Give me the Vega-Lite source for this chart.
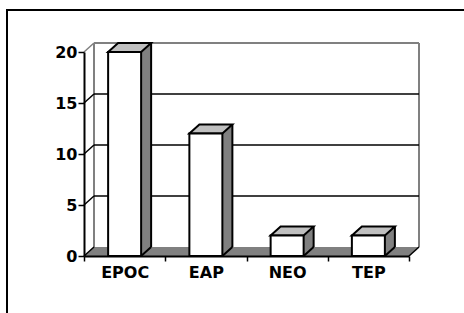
{
  "$schema": "https://vega.github.io/schema/vega-lite/v6.json",
  "width": 459,
  "height": 305,
  "autosize": {"type": "none"},
  "padding": {"left": 7, "top": 10, "right": -2, "bottom": -2},
  "background": "white",
  "config": {
    "view": {"stroke": "black", "strokeWidth": 2, "fill": "white"},
    "font": "DejaVu Sans",
    "axis": {
      "labelFont": "DejaVu Sans",
      "labelFontSize": 16,
      "labelFontWeight": "bold",
      "labelColor": "black",
      "domainColor": "black",
      "domainWidth": 2,
      "tickColor": "black",
      "tickWidth": 1.5,
      "grid": false
    }
  },
  "datasets": {
    "bars": [
      {"cat": "EPOC", "n": 20},
      {"cat": "EAP", "n": 12},
      {"cat": "NEO", "n": 2},
      {"cat": "TEP", "n": 2}
    ],
    "ticks": [{"v": 0}, {"v": 5}, {"v": 10}, {"v": 15}, {"v": 20}]
  },
  "data": {"name": "bars"},
  "layer": [
    {
      "data": {"values": [{}]},
      "mark": {"type": "rule", "stroke": "#808080", "strokeWidth": 2, "xOffset": 10, "yOffset": -9, "y2Offset": -9},
      "encoding": {
        "x": {"datum": "EPOC", "type": "nominal", "bandPosition": 0},
        "y": {"datum": 0, "type": "quantitative"},
        "y2": {"datum": 20}
      }
    },
    {
      "data": {"values": [{}]},
      "mark": {"type": "rule", "stroke": "#808080", "strokeWidth": 2, "xOffset": 10, "yOffset": -9, "y2Offset": -9},
      "encoding": {
        "x": {"datum": "TEP", "type": "nominal", "bandPosition": 1},
        "y": {"datum": 0, "type": "quantitative"},
        "y2": {"datum": 20}
      }
    },
    {
      "data": {"values": [{}]},
      "mark": {"type": "rule", "stroke": "#808080", "strokeWidth": 2, "xOffset": 10, "x2Offset": 10, "yOffset": -9},
      "encoding": {
        "x": {"datum": "EPOC", "type": "nominal", "bandPosition": 0},
        "x2": {"datum": "TEP", "bandPosition": 1},
        "y": {"datum": 20, "type": "quantitative"}
      }
    },
    {
      "data": {"name": "ticks"},
      "transform": [{"filter": "datum.v > 0 && datum.v < 20"}],
      "mark": {"type": "rule", "stroke": "black", "strokeWidth": 1.5, "xOffset": 10, "x2Offset": 10, "yOffset": -9},
      "encoding": {
        "x": {"datum": "EPOC", "type": "nominal", "bandPosition": 0},
        "x2": {"datum": "TEP", "bandPosition": 1},
        "y": {"field": "v", "type": "quantitative", "title": null}
      }
    },
    {
      "data": {"values": [{}]},
      "mark": {"type": "point", "shape": "M-162.5,0L162.5,0L172.5,-9L-152.5,-9Z", "size": 4, "filled": true, "fill": "#808080", "strokeWidth": 0, "opacity": 1},
      "encoding": {
        "x": {"datum": "EAP", "type": "nominal", "bandPosition": 1},
        "y": {"datum": 0, "type": "quantitative"}
      }
    },
    {
      "data": {"name": "ticks"},
      "mark": {"type": "point", "shape": "M0,0L10,-9", "size": 4, "filled": false, "strokeWidth": 1.5, "opacity": 1},
      "encoding": {
        "x": {"datum": "EPOC", "type": "nominal", "bandPosition": 0},
        "y": {"field": "v", "type": "quantitative", "title": null},
        "stroke": {"condition": {"test": "datum.v == 20", "value": "#808080"}, "value": "black"}
      }
    },
    {
      "data": {"values": [{}]},
      "mark": {"type": "point", "shape": "M0,0L10,-9", "size": 4, "filled": false, "stroke": "black", "strokeWidth": 1.5, "opacity": 1},
      "encoding": {
        "x": {"datum": "TEP", "type": "nominal", "bandPosition": 1},
        "y": {"datum": 0, "type": "quantitative"}
      }
    },
    {
      "mark": {"type": "bar", "width": 10, "xOffset": 21.5, "yOffset": -9, "y2Offset": -9, "fill": "#808080", "strokeWidth": 0},
      "encoding": {
        "x": {"field": "cat", "type": "nominal", "title": null},
        "y": {"field": "n", "type": "quantitative", "title": null},
        "y2": {"datum": 0}
      }
    },
    {
      "mark": {"type": "point", "shape": "M-16.5,0L16.5,0L26.5,-9L-6.5,-9Z", "size": 4, "filled": true, "fill": "#c0c0c0", "stroke": "black", "strokeWidth": 2, "opacity": 1, "strokeJoin": "miter"},
      "encoding": {
        "x": {"field": "cat", "type": "nominal", "title": null},
        "y": {"field": "n", "type": "quantitative", "title": null}
      }
    },
    {
      "mark": {"type": "rule", "stroke": "black", "strokeWidth": 2, "xOffset": 26.5, "yOffset": -9, "y2Offset": -9},
      "encoding": {
        "x": {"field": "cat", "type": "nominal", "title": null},
        "y": {"field": "n", "type": "quantitative", "title": null},
        "y2": {"datum": 0}
      }
    },
    {
      "mark": {"type": "point", "shape": "M16.5,0L26.5,-9", "size": 4, "filled": false, "stroke": "black", "strokeWidth": 2, "opacity": 1},
      "encoding": {
        "x": {"field": "cat", "type": "nominal", "title": null},
        "y": {"datum": 0, "type": "quantitative"}
      }
    },
    {
      "mark": {"type": "bar", "width": 33, "fill": "white", "stroke": "black", "strokeWidth": 2},
      "encoding": {
        "x": {
          "field": "cat",
          "type": "nominal",
          "title": null,
          "scale": {"domain": ["EPOC", "EAP", "NEO", "TEP"], "range": [77, 402], "paddingInner": 0, "paddingOuter": 0},
          "axis": {"orient": "bottom", "offset": -59, "bandPosition": 0.5, "tickBand": "extent", "tickSize": 5, "labelPadding": 11, "labelAngle": 0, "labelAlign": "center", "title": null, "zindex": 1}
        },
        "y": {
          "field": "n",
          "type": "quantitative",
          "title": null,
          "scale": {"domain": [0, 20], "range": [246, 42], "nice": false},
          "axis": {"values": [0, 5, 10, 15, 20], "offset": -77, "tickSize": 6, "labelPadding": 1, "title": null, "zindex": 1, "format": "d"}
        }
      }
    }
  ]
}
